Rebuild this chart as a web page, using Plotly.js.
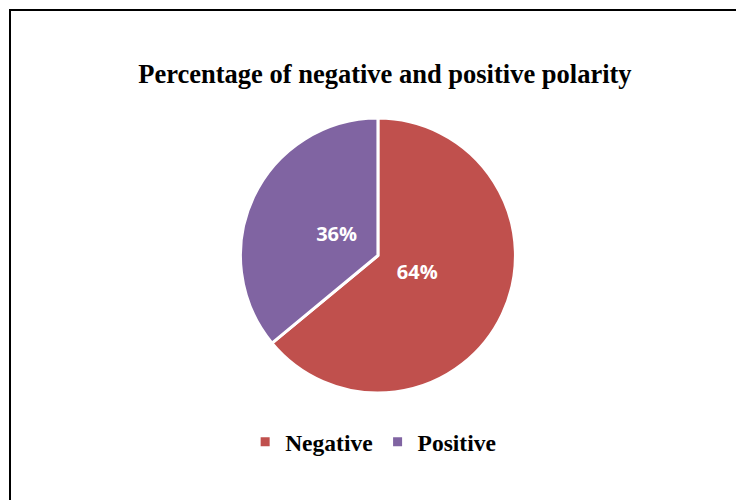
<!DOCTYPE html>
<html>
<head>
<meta charset="utf-8">
<script src="https://cdn.plot.ly/plotly-3.0.1.min.js"></script>
<style>
html,body{margin:0;padding:0;background:#fff;}
#wrap{position:relative;width:736px;height:500px;overflow:hidden;}
#chart{width:736px;height:500px;}
#frame{position:absolute;left:9px;top:9px;width:760px;height:520px;border-left:2px solid #000;border-top:2px solid #000;pointer-events:none;}
</style>
</head>
<body>
<div id="wrap">
<div id="chart"></div>
<div id="frame"></div>
</div>
<script>
var categories = ["Negative", "Positive"];
var values = [64, 36];
var colors = ["#C0504D", "#8064A2"];
var chartTitle = "Percentage of negative and positive polarity";

var pieTrace = {
  type: "pie",
  labels: categories,
  values: values,
  sort: false,
  direction: "clockwise",
  rotation: 0,
  marker: {colors: colors, line: {color: "#ffffff", width: 3}},
  textinfo: "none",
  domain: {x: [0.2, 0.827], y: [0.214, 0.764]},
  hoverinfo: "label+percent"
};

// transparent inner pie carrying the percentage labels closer to the centre
var labelTrace = {
  type: "pie",
  labels: categories,
  values: values,
  sort: false,
  direction: "clockwise",
  rotation: 0,
  showlegend: false,
  marker: {colors: ["rgba(0,0,0,0)", "rgba(0,0,0,0)"], line: {width: 0}},
  texttemplate: "%{percent:.0%}",
  textposition: "inside",
  insidetextorientation: "horizontal",
  textfont: {family: "Open Sans", size: 20, color: "#ffffff", weight: "bold"},
  domain: {x: [0.391, 0.636], y: [0.32, 0.668]},
  hoverinfo: "skip"
};

var layout = {
  width: 736, height: 500,
  margin: {l: 0, r: 0, t: 0, b: 0},
  paper_bgcolor: "#ffffff",
  title: {
    text: "<b>" + chartTitle + "</b>",
    font: {family: "Liberation Serif", size: 26.5, color: "#000000"},
    x: 0.523, xanchor: "center", y: 0.852, yanchor: "middle"
  },
  showlegend: true,
  legend: {
    orientation: "h",
    x: 0.507, xanchor: "center",
    y: 0.116, yanchor: "middle",
    font: {family: "Liberation Serif", size: 23.5, color: "#000000", weight: "bold"},
    itemwidth: 30
  }
};

Plotly.newPlot("chart", [pieTrace, labelTrace], layout, {displayModeBar: false, staticPlot: true});
</script>
</body>
</html>
